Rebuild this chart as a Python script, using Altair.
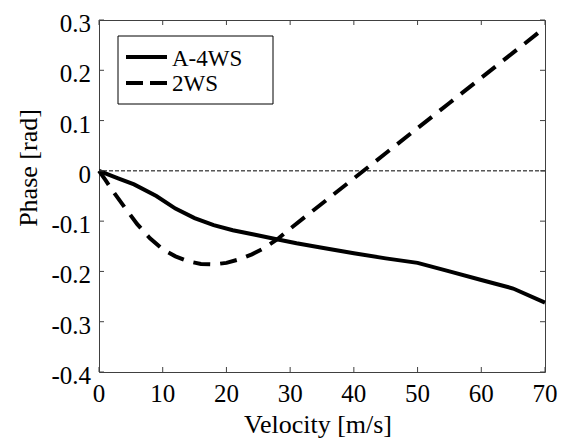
import altair as alt
import pandas as pd

# ---- data ----
series_names = ["A-4WS", "2WS"]

velocity_a4ws = [0, 3, 5.5, 9, 12, 15, 18, 21, 24.5, 27.5, 31, 35, 40, 45, 50, 55, 60, 65, 70]
phase_a4ws = [0, -0.015, -0.027, -0.05, -0.075, -0.094, -0.108, -0.118, -0.127, -0.135,
              -0.144, -0.153, -0.164, -0.174, -0.183, -0.2, -0.217, -0.234, -0.262]

velocity_2ws = [0, 1, 2, 4, 6, 8, 10, 12, 14, 16, 18, 20, 22, 24, 26, 28, 30, 33, 36, 40,
                45, 50, 55, 60, 65, 70]
phase_2ws = [0, -0.018, -0.037, -0.072, -0.106, -0.134, -0.156, -0.17, -0.18, -0.185,
             -0.186, -0.183, -0.176, -0.166, -0.153, -0.136, -0.115, -0.085, -0.055,
             -0.015, 0.035, 0.085, 0.135, 0.185, 0.235, 0.285]

x_ticks = [0, 10, 20, 30, 40, 50, 60, 70]
x_tick_labels = ["0", "10", "20", "30", "40", "50", "60", "70"]
y_ticks = [-0.4, -0.3, -0.2, -0.1, 0, 0.1, 0.2, 0.3]
y_tick_labels = ["-0.4", "-0.3", "-0.2", "-0.1", "0", "0.1", "0.2", "0.3"]
x_title = "Velocity [m/s]"
y_title = "Phase [rad]"

# ---- layout ----
W, H = 446, 352
FONT = "Liberation Serif"
FRAME = "#404040"
LW = 4

df_a = pd.DataFrame({"v": velocity_a4ws, "p": phase_a4ws})
df_b = pd.DataFrame({"v": velocity_2ws, "p": phase_2ws})
df_xt = pd.DataFrame({"v": x_ticks, "lab": x_tick_labels})
df_yt = pd.DataFrame({"p": y_ticks, "lab": y_tick_labels})
df_zero = pd.DataFrame({"p": [0]})

xs = alt.Scale(domain=[0, 70], nice=False, zero=False)
ys = alt.Scale(domain=[-0.4, 0.3], nice=False, zero=False)

X = alt.X("v:Q", scale=xs, axis=None)
Y = alt.Y("p:Q", scale=ys, axis=None)

zero_line = alt.Chart(df_zero).mark_rule(color="black", strokeWidth=1, strokeDash=[4, 2]).encode(y=Y)

line_a = alt.Chart(df_a).mark_line(color="black", strokeWidth=LW).encode(x=X, y=Y)
line_b = alt.Chart(df_b).mark_line(color="black", strokeWidth=LW, strokeDash=[17, 10],
                                   strokeCap="butt").encode(x=X, y=Y)

# inward ticks on all four sides
tick_b = alt.Chart(df_xt).mark_rule(color=FRAME, strokeWidth=1).encode(
    x=X, y=alt.value(H), y2=alt.value(H - 5))
tick_t = alt.Chart(df_xt).mark_rule(color=FRAME, strokeWidth=1).encode(
    x=X, y=alt.value(0), y2=alt.value(5))
tick_l = alt.Chart(df_yt).mark_rule(color=FRAME, strokeWidth=1).encode(
    y=Y, x=alt.value(0), x2=alt.value(5))
tick_r = alt.Chart(df_yt).mark_rule(color=FRAME, strokeWidth=1).encode(
    y=Y, x=alt.value(W), x2=alt.value(W - 5))

# tick labels
lab_x = alt.Chart(df_xt).mark_text(font=FONT, fontSize=25, color="black", align="center",
                                   baseline="alphabetic").encode(
    x=X, y=alt.value(H + 30), text="lab:N")
lab_y = alt.Chart(df_yt).mark_text(font=FONT, fontSize=25, color="black", align="right",
                                   baseline="alphabetic", dy=12).encode(
    y=Y, x=alt.value(-8), text="lab:N")

# axis titles
df_xtitle = pd.DataFrame({"t": [x_title]})
df_ytitle = pd.DataFrame({"t": [y_title]})
title_x = alt.Chart(df_xtitle).mark_text(font=FONT, fontSize=26, color="black", align="center",
                                         baseline="alphabetic").encode(
    x=alt.value(219), y=alt.value(H + 61), text="t:N")
title_y = alt.Chart(df_ytitle).mark_text(font=FONT, fontSize=26, color="black", align="center",
                                         baseline="alphabetic", angle=270).encode(
    x=alt.value(-62), y=alt.value(148), text="t:N")

# ---- legend box ----
df_leg_a = pd.DataFrame({"name": [series_names[0]]})
df_leg_b = pd.DataFrame({"name": [series_names[1]]})

leg_box = alt.Chart(df_leg_a).mark_rect(fill="white", stroke="black", strokeWidth=1).encode(
    x=alt.value(19), x2=alt.value(174), y=alt.value(16), y2=alt.value(84))
leg_line_a = alt.Chart(df_leg_a).mark_rule(color="black", strokeWidth=LW).encode(
    x=alt.value(27), x2=alt.value(68), y=alt.value(37))
leg_line_b = alt.Chart(df_leg_b).mark_rule(color="black", strokeWidth=LW,
                                           strokeDash=[17, 7]).encode(
    x=alt.value(27), x2=alt.value(68), y=alt.value(63))
leg_text_a = alt.Chart(df_leg_a).mark_text(align="left", baseline="middle", font=FONT,
                                           fontSize=23, color="black").encode(
    x=alt.value(73), y=alt.value(39), text="name:N")
leg_text_b = alt.Chart(df_leg_b).mark_text(align="left", baseline="middle", font=FONT,
                                           fontSize=23, color="black").encode(
    x=alt.value(73), y=alt.value(64), text="name:N")

chart = alt.layer(
    zero_line, line_a, line_b, tick_b, tick_t, tick_l, tick_r,
    lab_x, lab_y, title_x, title_y,
    leg_box, leg_line_a, leg_line_b, leg_text_a, leg_text_b
).properties(
    width=W, height=H,
    padding={"left": 99, "top": 20, "right": 24, "bottom": 67},
    autosize=alt.AutoSizeParams(type="none"),
).configure_view(stroke=FRAME, strokeWidth=1)

chart.save("out.html", embed_options={"renderer": "svg", "actions": False})
